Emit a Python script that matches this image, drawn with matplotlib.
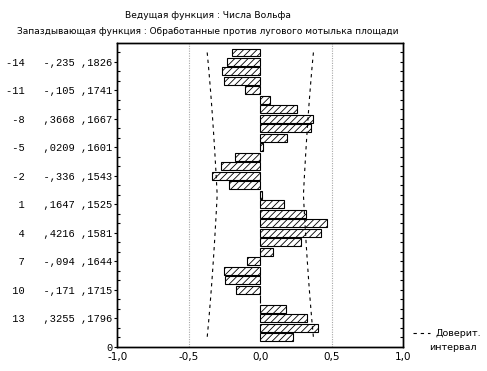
import numpy as np
import matplotlib.pyplot as plt
from matplotlib.lines import Line2D

# лаги и кросс-корреляция
lags = list(range(-15, 16))
ccf = [-0.198, -0.235, -0.268, -0.254, -0.105, 0.069, 0.254, 0.3668, 0.357, 0.184,
       0.0209, -0.174, -0.275, -0.336, -0.219, 0.01, 0.1647, 0.322, 0.465, 0.4216,
       0.287, 0.090, -0.094, -0.254, -0.247, -0.171, -0.005, 0.181, 0.3255, 0.402, 0.230]
se = [0.1857, 0.1826, 0.1796, 0.1768, 0.1741, 0.1715, 0.1690, 0.1667, 0.1644, 0.1622,
      0.1601, 0.1581, 0.1562, 0.1543, 0.1525, 0.1508, 0.1525, 0.1543, 0.1562, 0.1581,
      0.1601, 0.1622, 0.1644, 0.1667, 0.1690, 0.1715, 0.1741, 0.1768, 0.1796, 0.1826, 0.1857]
label_lags = [-14, -11, -8, -5, -2, 1, 4, 7, 10, 13]
xticks = [-1.0, -0.5, 0.0, 0.5, 1.0]

title1 = "Ведущая функция : Числа Вольфа"
title2 = "Запаздывающая функция : Обработанные против лугового мотылька площади"


def fmt_r(v):
    # формат STATISTICA: без ведущего нуля, запятая
    if v >= 0:
        s = f"{v:.4f}"[1:]
    else:
        s = "-" + f"{-v:.3f}"[1:]
    return s.replace(".", ",")


def fmt_se(v):
    return f"{v:.4f}"[1:].replace(".", ",")


plt.rcParams['hatch.linewidth'] = 0.6
fig = plt.figure(figsize=(4.87, 3.71), dpi=100)
ax = fig.add_axes([117.3 / 487, 24.3 / 371, 286 / 487, 303.7 / 371])

lag_arr = np.array(lags)
ci = 2 * np.array(se)

for x in (-0.5, 0.5):
    ax.axvline(x, color='#a8a8a8', lw=0.8, ls=(0, (1, 1.2)), zorder=0)

ax.barh(lag_arr, ccf, height=0.84, color='white', edgecolor='black',
        linewidth=0.8, hatch='/////', zorder=2)
ax.plot(-ci, lag_arr, color='black', lw=0.8, dashes=(3, 3.5), zorder=3)
ax.plot(ci, lag_arr, color='black', lw=0.8, dashes=(3, 3.5), zorder=3)

ax.set_xlim(-1, 1)
ax.set_ylim(16, -16)

ax.set_xticks(xticks)
ax.set_xticklabels([f"{t:.1f}".replace(".", ",") for t in xticks],
                   family='DejaVu Sans', fontsize=7.5)
ax.tick_params(axis='x', length=0, pad=4)

ytick_pos = label_lags + [16]
ytick_lab = []
for lg in label_lags:
    i = lags.index(lg)
    ytick_lab.append(f"{lg:>3}   {fmt_r(ccf[i])} {fmt_se(se[i])}")
ytick_lab.append("0")
ax.set_yticks(ytick_pos)
ax.set_yticklabels(ytick_lab, family='Liberation Mono', fontsize=7.5)
ax.set_yticks(lags, minor=True)
ax.tick_params(axis='y', which='major', direction='out', length=2.5, width=0.8, pad=1)
ax.tick_params(axis='y', which='minor', direction='in', length=2.5, width=0.8)

ax2 = ax.twinx()
ax2.set_ylim(16, -16)
ax2.set_yticks(lags)
ax2.set_yticklabels([])
ax2.tick_params(axis='y', direction='in', length=2.5, width=0.8)

for a in (ax, ax2):
    for s in a.spines.values():
        s.set_linewidth(1.0)

fig.text(208 / 487, 1 - 15 / 371, title1, ha='center', va='center',
         family='DejaVu Sans', fontsize=6.6)
fig.text(208 / 487, 1 - 32 / 371, title2, ha='center', va='center',
         family='DejaVu Sans', fontsize=6.5)

# легенда
fig.add_artist(Line2D([413 / 487, 430 / 487], [1 - 333 / 371, 1 - 333 / 371],
                      color='black', lw=0.8, dashes=(3, 3.5)))
fig.text(458 / 487, 1 - 333 / 371, "Доверит.", ha='center', va='center',
         family='DejaVu Sans', fontsize=6.8)
fig.text(453 / 487, 1 - 347 / 371, "интервал", ha='center', va='center',
         family='DejaVu Sans', fontsize=6.8)

fig.savefig("out.png", dpi=100)
